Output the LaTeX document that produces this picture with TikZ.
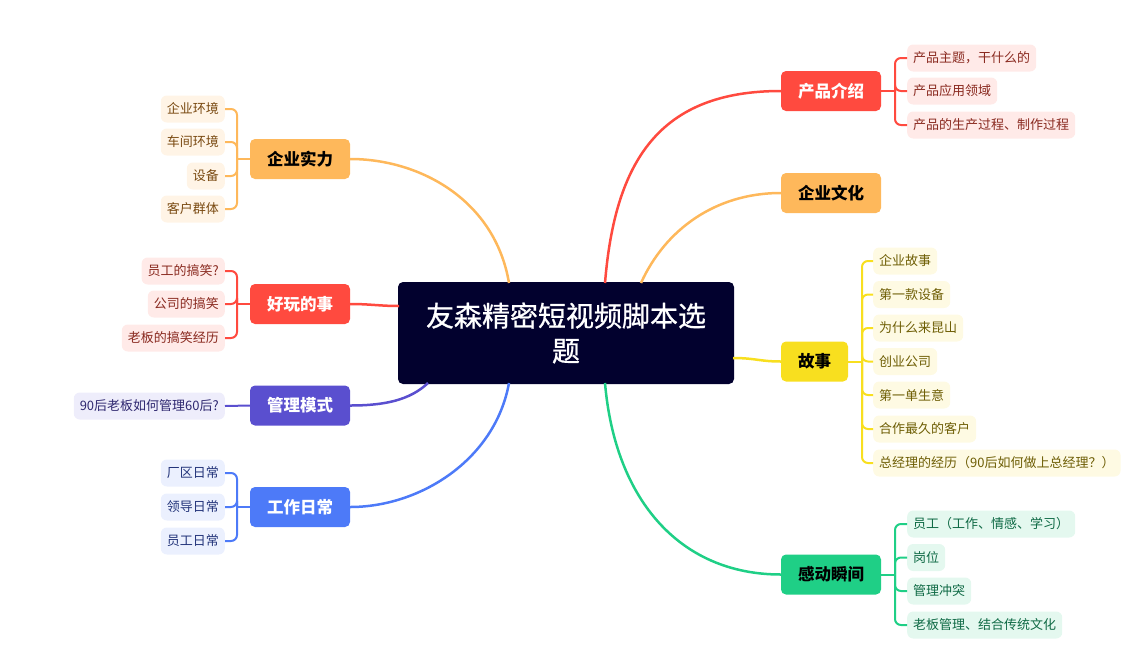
\documentclass[tikz,border=0pt]{standalone}
\usepackage{fontspec}
\setmainfont{Noto Sans CJK SC}
\newfontfamily\medfont[FakeBold=0.8]{Noto Sans CJK SC}
\definecolor{cnavy}{HTML}{02012E}
\definecolor{cred}{HTML}{FF4A3F}
\definecolor{corange}{HTML}{FEB85B}
\definecolor{cyellow}{HTML}{F8DF1F}
\definecolor{cgreen}{HTML}{1FCF86}
\definecolor{cpurple}{HTML}{5A4FCF}
\definecolor{cblue}{HTML}{4D7AF8}
\definecolor{lred}{HTML}{FFEAE8}\definecolor{tred}{HTML}{8A2A20}
\definecolor{lorange}{HTML}{FFF4E6}\definecolor{torange}{HTML}{7A4A12}
\definecolor{lyellow}{HTML}{FEFAE3}\definecolor{tyellow}{HTML}{6E5E05}
\definecolor{lgreen}{HTML}{E4F8EF}\definecolor{tgreen}{HTML}{0F6A45}
\definecolor{lpurple}{HTML}{EEEDFB}\definecolor{tpurple}{HTML}{2F2870}
\definecolor{lblue}{HTML}{EBF0FE}\definecolor{tblue}{HTML}{23347A}
\begin{document}
\begin{tikzpicture}[x=1pt,y=-1pt,
  central/.style={fill=cnavy, rounded corners=5pt, minimum width=336pt, minimum height=102pt, text=white, align=center, font=\medfont\fontsize{28}{35}\selectfont, inner sep=0pt},
  branch/.style={rounded corners=5pt, minimum height=40pt, minimum width=100pt, inner sep=0pt, font=\fontsize{16.5}{18}\selectfont\bfseries},
  leaf/.style={rounded corners=6pt, minimum height=27pt, inner xsep=6pt, inner ysep=0pt, font=\fontsize{13}{15}\selectfont},
  rl/.style={leaf, fill=lred, text=tred},
  ol/.style={leaf, fill=lorange, text=torange},
  yl/.style={leaf, fill=lyellow, text=tyellow},
  gl/.style={leaf, fill=lgreen, text=tgreen},
  pl/.style={leaf, fill=lpurple, text=tpurple},
  bl/.style={leaf, fill=lblue, text=tblue},
  mainline/.style={line width=2.5pt},
  brk/.style={line width=2pt, rounded corners=6pt},
]
\useasboundingbox (0,0) rectangle (1127,662);
% central
\node[central] (c) at (566,333) {友森精密短视频脚本选\\题};
% branches
\node[branch, fill=cred, text=white] (p) at (831,91) {产品介绍};
\node[branch, fill=corange] (w) at (831,193) {企业文化};
\node[branch, fill=cyellow, minimum width=67pt] (s) at (814.5,361.5) {故事};
\node[branch, fill=cgreen] (g) at (831,574.5) {感动瞬间};
\node[branch, fill=corange] (q) at (300,159) {企业实力};
\node[branch, fill=cred, text=white] (h) at (300,304) {好玩的事};
\node[branch, fill=cpurple, text=white] (m) at (300,405.5) {管理模式};
\node[branch, fill=cblue, text=white] (r) at (300,507) {工作日常};
% leaves right
\node[rl, anchor=west] (p1) at (907,58) {产品主题，干什么的};
\node[rl, anchor=west] (p2) at (907,91) {产品应用领域};
\node[rl, anchor=west] (p3) at (907,125) {产品的生产过程、制作过程};
\node[yl, anchor=west] (s1) at (873,261) {企业故事};
\node[yl, anchor=west] (s2) at (873,294.5) {第一款设备};
\node[yl, anchor=west] (s3) at (873,328) {为什么来昆山};
\node[yl, anchor=west] (s4) at (873,361.5) {创业公司};
\node[yl, anchor=west] (s5) at (873,395) {第一单生意};
\node[yl, anchor=west] (s6) at (873,429) {合作最久的客户};
\node[yl, anchor=west] (s7) at (873,463) {总经理的经历（90后如何做上总经理？）};
\node[gl, anchor=west] (g1) at (907,524) {员工（工作、情感、学习）};
\node[gl, anchor=west] (g2) at (907,557.5) {岗位};
\node[gl, anchor=west] (g3) at (907,591) {管理冲突};
\node[gl, anchor=west] (g4) at (907,625) {老板管理、结合传统文化};
% leaves left
\node[ol, anchor=east] (q1) at (225,109) {企业环境};
\node[ol, anchor=east] (q2) at (225,142) {车间环境};
\node[ol, anchor=east] (q3) at (225,176) {设备};
\node[ol, anchor=east] (q4) at (225,209) {客户群体};
\node[rl, anchor=east] (h1) at (225,271) {员工的搞笑?};
\node[rl, anchor=east] (h2) at (225,304) {公司的搞笑};
\node[rl, anchor=east] (h3) at (225,338) {老板的搞笑经历};
\node[pl, anchor=east] (m1) at (225,406) {90后老板如何管理60后?};
\node[bl, anchor=east] (r1) at (225,473) {厂区日常};
\node[bl, anchor=east] (r2) at (225,507) {领导日常};
\node[bl, anchor=east] (r3) at (225,541) {员工日常};
% main curves
\coordinate (cp) at (605,283);
\coordinate (cw) at (641,283);
\coordinate (cs) at (733,358);
\coordinate (cg) at (605,383);
\coordinate (cq) at (509,283);
\coordinate (ch) at (399,306);
\coordinate (cm) at (428,383);
\coordinate (cr) at (509,383);
\draw[mainline, cred] (cp) .. controls (615,160) and (660,91) .. (p.west);
\draw[mainline, corange] (cw) .. controls (665,230) and (715,193) .. (w.west);
\draw[mainline, cyellow] (cs) .. controls (755,358) and (760,361.5) .. (s.west);
\draw[mainline, cgreen] (cg) .. controls (615,500) and (680,574.5) .. (g.west);
\draw[mainline, corange] (cq) .. controls (495,200) and (420,159) .. (q.east);
\draw[mainline, cred] (ch) .. controls (380,306) and (370,304) .. (h.east);
\draw[mainline, cpurple] (cm) .. controls (410,400) and (385,405.5) .. (m.east);
\draw[mainline, cblue] (cr) .. controls (495,460) and (420,507) .. (r.east);
% brackets
\coordinate (pj) at (895,91);
\draw[brk, cred] (p.east) -- (pj);
\foreach \l in {p1,p2,p3} \draw[brk, cred] (pj) |- (\l.west);
\coordinate (sj) at (862,361.5);
\draw[brk, cyellow] (s.east) -- (sj);
\foreach \l in {s1,s2,s3,s4,s5,s6,s7} \draw[brk, cyellow] (sj) |- (\l.west);
\coordinate (gj) at (895,574.5);
\draw[brk, cgreen] (g.east) -- (gj);
\foreach \l in {g1,g2,g3,g4} \draw[brk, cgreen] (gj) |- (\l.west);
\coordinate (qj) at (237,159);
\draw[brk, corange] (q.west) -- (qj);
\foreach \l in {q1,q2,q3,q4} \draw[brk, corange] (qj) |- (\l.east);
\coordinate (hj) at (237,304);
\draw[brk, cred] (h.west) -- (hj);
\foreach \l in {h1,h2,h3} \draw[brk, cred] (hj) |- (\l.east);
\draw[brk, cpurple] (m.west) -- (m1.east);
\coordinate (rj) at (237,507);
\draw[brk, cblue] (r.west) -- (rj);
\foreach \l in {r1,r2,r3} \draw[brk, cblue] (rj) |- (\l.east);
\end{tikzpicture}
\end{document}
